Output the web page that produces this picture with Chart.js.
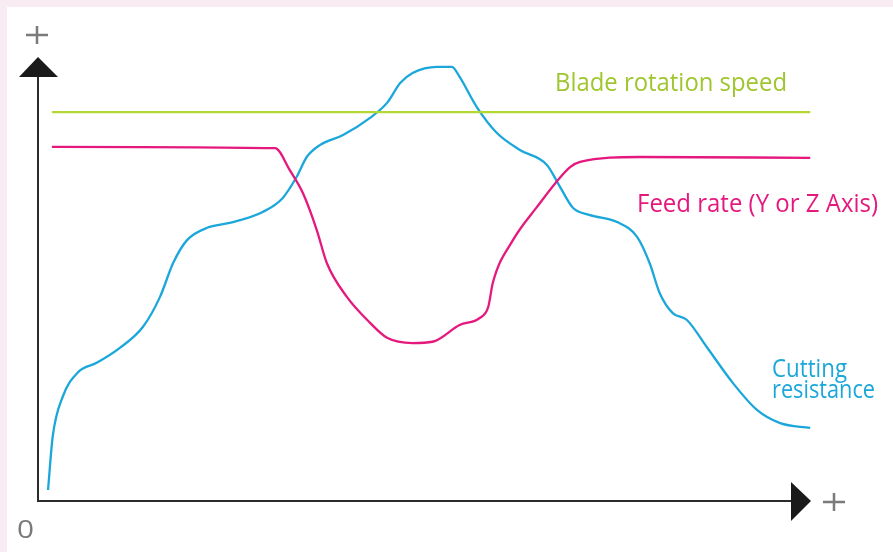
<!DOCTYPE html>
<html>
<head>
<meta charset="utf-8">
<script src="https://cdn.jsdelivr.net/npm/chart.js@4/dist/chart.umd.min.js"></script>
<style>
  html, body { margin: 0; padding: 0; background: #ffffff; }
  canvas { display: block; }
</style>
</head>
<body>
<canvas id="chart" width="893" height="552"></canvas>
<script>
// Curve readings (x: 0..100 along the time axis, y: 0..100 up the value axis)
const cutX = [1.2, 1.8, 3.1, 5.1, 7.5, 10.5, 13.5, 15.7, 17.4, 19.2, 21.8, 24.7, 29.0, 31.6, 33.4, 34.7,
              36.4, 39.4, 42.9, 45.1, 46.8, 48.4, 51.6, 53.5, 54.5, 56.7, 59.3, 62.3, 65.8, 67.5, 69.2,
              71.4, 74.9, 77.5, 79.1, 80.4, 82.1, 83.9, 86.5, 89.9, 93.0, 96.0, 99.9];
const cutY = [1.8, 13.9, 23.0, 28.6, 30.7, 34.1, 38.9, 45.7, 53.4, 58.6, 61.4, 62.5, 65.0, 68.2, 73.0, 77.5,
              80.2, 82.5, 86.4, 89.8, 94.3, 96.6, 98.0, 98.0, 95.7, 88.9, 83.0, 79.1, 75.7, 70.7, 65.9,
              64.3, 62.7, 59.3, 53.4, 46.6, 42.0, 40.5, 34.3, 26.1, 20.0, 17.0, 15.9];

const feedX = [1.7, 30.6, 32.5, 34.2, 36.0, 37.3, 39.9, 42.9, 45.1, 48.4, 51.0, 54.5, 57.1, 58.2, 58.8,
               61.4, 64.5, 68.8, 70.1, 77.8, 99.9];
const feedY = [79.8, 79.5, 74.5, 69.3, 60.9, 53.4, 45.7, 39.8, 36.4, 35.2, 35.5, 39.3, 40.9, 43.4, 48.9,
               58.6, 66.1, 75.2, 76.4, 77.5, 77.3];

const bladeX = [1.7, 99.9];
const bladeY = [87.7, 87.7];

const seriesNames = ["Blade rotation speed", "Feed rate (Y or Z Axis)", "Cutting resistance"];

const GREEN = "#b4d733";
const PINK = "#e5187e";
const BLUE = "#1ba7da";
const GREY = "#7a7a7a";

function points(xs, ys) {
    return xs.map((x, i) => ({ x: x, y: ys[i] }));
}

// page frame, axes with arrow heads and the text labels
const decorations = {
    id: "decorations",
    beforeDraw(chart) {
        const ctx = chart.ctx;
        ctx.save();
        ctx.fillStyle = "#ffffff";
        ctx.fillRect(0, 0, chart.width, chart.height);
        ctx.fillStyle = "#f9ebf2";
        ctx.fillRect(0, 0, chart.width, 7);
        ctx.fillRect(0, 0, 7, chart.height);
        ctx.restore();
    },
    afterDatasetsDraw(chart) {
        const ctx = chart.ctx;
        const a = chart.chartArea;
        ctx.save();

        // axes
        ctx.strokeStyle = "#2b2b2b";
        ctx.lineWidth = 2;
        ctx.beginPath();
        ctx.moveTo(a.left, a.top + 18);
        ctx.lineTo(a.left, a.bottom);
        ctx.lineTo(a.right - 18, a.bottom);
        ctx.stroke();

        ctx.fillStyle = "#1a1a1a";
        ctx.beginPath();
        ctx.moveTo(a.left, a.top - 1);
        ctx.lineTo(a.left + 20, a.top + 19);
        ctx.lineTo(a.left - 19, a.top + 19);
        ctx.closePath();
        ctx.fill();
        ctx.beginPath();
        ctx.moveTo(a.right, a.bottom);
        ctx.lineTo(a.right - 20, a.bottom - 19);
        ctx.lineTo(a.right - 20, a.bottom + 20);
        ctx.closePath();
        ctx.fill();

        // "+" marks
        ctx.strokeStyle = GREY;
        ctx.lineWidth = 2.5;
        const plus = (cx, cy) => {
            ctx.beginPath();
            ctx.moveTo(cx - 11, cy);
            ctx.lineTo(cx + 11, cy);
            ctx.moveTo(cx, cy - 9);
            ctx.lineTo(cx, cy + 9);
            ctx.stroke();
        };
        plus(37, 35);
        plus(834, 502);

        const label = (text, x, baseline, width, color, size) => {
            ctx.font = size + "px 'Open Sans', 'Noto Sans', sans-serif";
            const w = ctx.measureText(text).width;
            ctx.save();
            ctx.translate(x, baseline);
            ctx.scale(width / w, 1);
            ctx.fillStyle = color;
            ctx.textAlign = "left";
            ctx.textBaseline = "alphabetic";
            ctx.fillText(text, 0, 0);
            ctx.restore();
        };
        label("0", 17, 538, 17, GREY, 25);
        label(seriesNames[0], 555, 91, 232, "#9fc62e", 26);
        label(seriesNames[1], 637, 212, 241, PINK, 26);
        label("Cutting", 772, 377, 75, BLUE, 25);
        label("resistance", 772, 398, 103, BLUE, 25);
        ctx.restore();
    }
};

new Chart(document.getElementById("chart"), {
    type: "line",
    data: {
        datasets: [
            { label: seriesNames[0], data: points(bladeX, bladeY), borderColor: GREEN },
            { label: seriesNames[1], data: points(feedX, feedY), borderColor: PINK },
            { label: seriesNames[2], data: points(cutX, cutY), borderColor: BLUE },
        ],
    },
    options: {
        responsive: false,
        animation: false,
        layout: { padding: { left: 38, right: 82, top: 58, bottom: 51 } },
        elements: {
            point: { radius: 0 },
            line: { borderWidth: 2.3, cubicInterpolationMode: "monotone", fill: false },
        },
        scales: {
            x: { type: "linear", min: -0.1, max: 100, display: false },
            y: { type: "linear", min: -0.7, max: 100, display: false },
        },
        plugins: {
            legend: { display: false },
            tooltip: { enabled: false },
        },
    },
    plugins: [decorations],
});
</script>
</body>
</html>
